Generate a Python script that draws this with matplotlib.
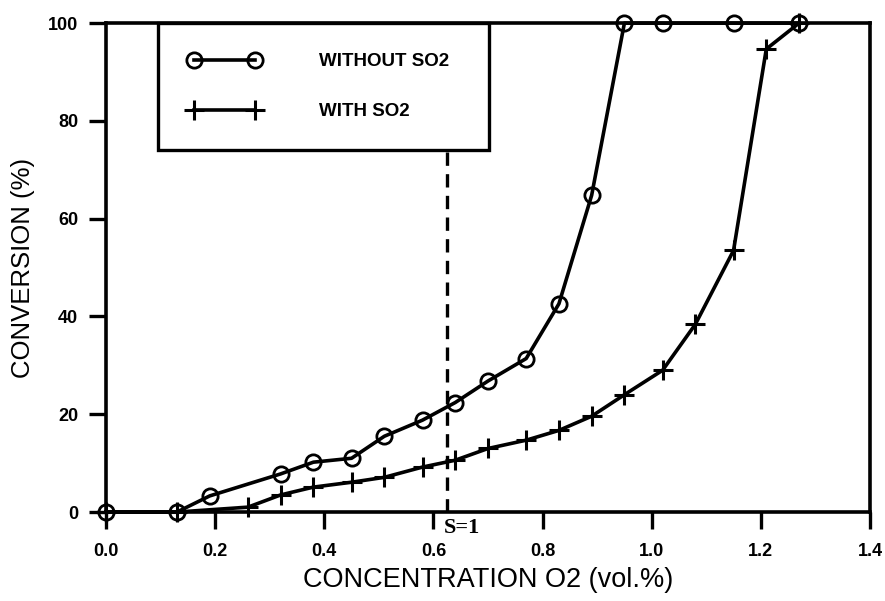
import matplotlib
matplotlib.use('Agg')
import matplotlib.pyplot as plt

# data
o2_without = [0.0, 0.13, 0.19, 0.32, 0.38, 0.45, 0.51, 0.58, 0.64, 0.70, 0.77, 0.83, 0.89, 0.95, 1.02, 1.15, 1.27]
conv_without = [0, 0, 3.3, 7.8, 10.2, 11.0, 15.5, 18.8, 22.4, 26.8, 31.4, 42.6, 64.8, 100, 100, 100, 100]

o2_with = [0.0, 0.13, 0.26, 0.32, 0.38, 0.45, 0.51, 0.58, 0.64, 0.70, 0.77, 0.83, 0.89, 0.95, 1.02, 1.08, 1.15, 1.21, 1.27]
conv_with = [0, 0, 1.0, 3.5, 5.1, 6.1, 7.1, 9.2, 10.6, 13.0, 14.7, 16.7, 19.6, 24.0, 29.0, 38.4, 53.5, 94.7, 100]

s1_x = 0.625
legend_bottom = 74.8

xticks = [0.0, 0.2, 0.4, 0.6, 0.8, 1.0, 1.2, 1.4]
yticks = [0, 20, 40, 60, 80, 100]

fig = plt.figure(figsize=(8.85, 6.01), dpi=100)
ax = fig.add_axes([0.1198, 0.148, 0.8632, 0.8135])

ax.plot(o2_without, conv_without, color='black', lw=2.6, marker='o', ms=11,
        mfc='none', mew=2.0, clip_on=False, zorder=3, label='WITHOUT SO2')
ax.plot(o2_with, conv_with, color='black', lw=2.6, marker='+', ms=15,
        mew=2.2, clip_on=False, zorder=3, label='WITH SO2')

# S=1 dashed marker line
ax.plot([s1_x, s1_x], [0, legend_bottom], color='black', lw=2.4,
        dashes=(4, 2.5), zorder=2)
ax.text(s1_x - 0.006, -1.3, 'S=1', family=['Liberation Serif', 'DejaVu Serif'],
        fontsize=16, fontweight='bold', ha='left', va='top')

ax.set_xlim(0, 1.4)
ax.set_ylim(0, 100)
ax.set_xticks(xticks)
ax.set_xticklabels(['%.1f' % t for t in xticks])
ax.set_yticks(yticks)

for s in ax.spines.values():
    s.set_linewidth(2.6)

ax.tick_params(axis='both', direction='out', length=12, width=2.4,
               labelsize=13)
ax.tick_params(axis='x', pad=10)
ax.tick_params(axis='y', pad=8)
for lab in ax.get_xticklabels() + ax.get_yticklabels():
    lab.set_family(['Liberation Sans', 'DejaVu Sans'])
    lab.set_fontweight('bold')

ax.set_xlabel('CONCENTRATION O2 (vol.%)', fontsize=19.5,
              family=['Liberation Sans', 'DejaVu Sans'], labelpad=5)
ax.set_ylabel('CONVERSION (%)', fontsize=18.5,
              family=['Liberation Sans', 'DejaVu Sans'], labelpad=9)

leg = ax.legend(loc='upper left', bbox_to_anchor=(0.068, 1.0, 0.433, 0),
                mode='expand', borderaxespad=0, numpoints=2,
                handlelength=3.9, handletextpad=3.1, borderpad=1.6,
                labelspacing=1.75, fancybox=False, framealpha=1,
                edgecolor='black',
                prop={'family': ['Liberation Sans', 'DejaVu Sans'],
                      'weight': 'bold', 'size': 13.5})
leg.get_frame().set_linewidth(2.4)
leg.set_zorder(5)

fig.savefig('out.png', dpi=100)
